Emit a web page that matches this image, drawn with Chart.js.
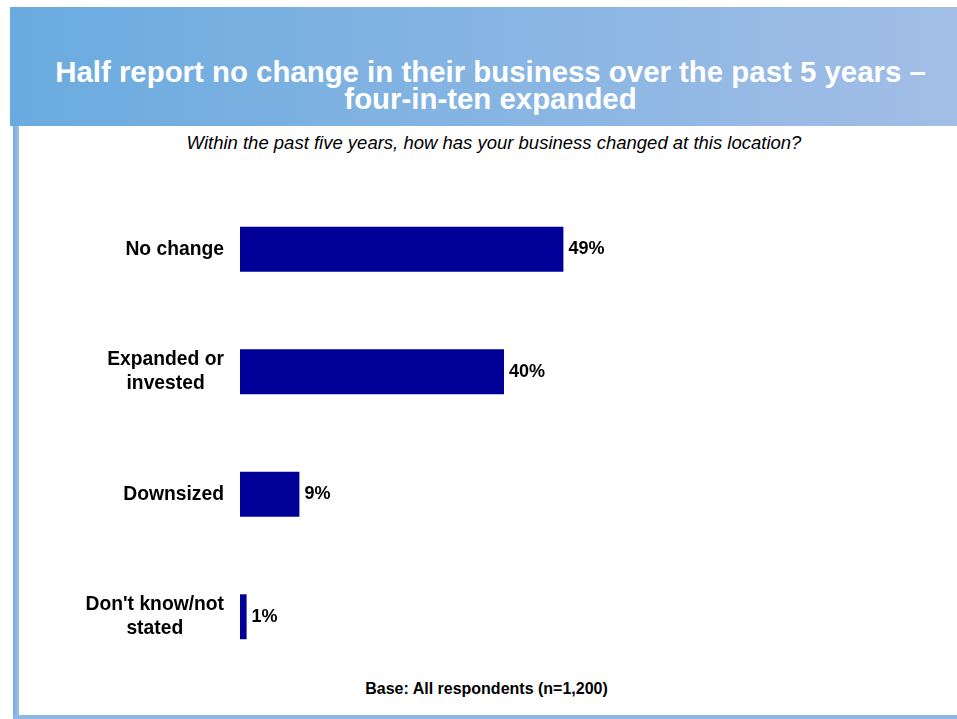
<!DOCTYPE html>
<html>
<head>
<meta charset="utf-8">
<title>Business change over the past 5 years</title>
<script src="https://cdn.jsdelivr.net/npm/chart.js@4"></script>
<style>
  body { margin: 0; background: #fff; font-family: 'Liberation Sans', Arial, sans-serif; }
  #page { position: relative; width: 957px; height: 719px; overflow: hidden; }
  #banner { position: absolute; left: 10px; top: 7px; width: 947px; height: 119px;
            background: linear-gradient(to right, #6aabdf, #a2bee6); }
  #edge { position: absolute; left: 13px; top: 126px; width: 6px; height: 593px;
          background: linear-gradient(to right, #74ade0, #a4bfe7); }
  #floor { position: absolute; left: 13px; top: 715px; width: 944px; height: 4px; background: #8cb8e6; }
  #title { position: absolute; left: 24px; top: 58px; width: 933px; text-align: center;
           color: #fff; font-weight: bold; font-size: 29.4px; line-height: 27px; }
  #question { position: absolute; left: 0; top: 133px; width: 988px; text-align: center;
              font-style: italic; font-size: 18.5px; line-height: 20px; color: #000; }
  #base { position: absolute; left: 0; top: 680px; width: 973px; text-align: center;
          font-weight: bold; font-size: 16px; line-height: 18px; color: #000; }
  #chart { position: absolute; left: 0; top: 0; }
</style>
</head>
<body>
<div id="page">
  <div id="banner"></div>
  <div id="edge"></div>
  <div id="floor"></div>
  <div id="title">Half report no change in their business over the past 5 years &ndash;<br>four-in-ten expanded</div>
  <div id="question">Within the past five years, how has your business changed at this location?</div>
  <div id="base">Base: All respondents (n=1,200)</div>
  <canvas id="chart" width="957" height="719"></canvas>
</div>
<script>
'use strict';

var categories = [
    'No change',
    ['Expanded or', 'invested'],
    'Downsized',
    ["Don't know/not", 'stated']
];
var percentages = [49, 40, 9, 1];

var nameFont = "bold 19.3px 'Liberation Sans', Arial, sans-serif";
var valueFont = "bold 18px 'Liberation Sans', Arial, sans-serif";

// category names: right-aligned block, lines centred inside it
var categoryLabels = {
    id: 'categoryLabels',
    afterDatasetsDraw: function(chart) {
        var ctx = chart.ctx;
        var yScale = chart.scales.y;
        var right = chart.chartArea.left - 16;
        ctx.save();
        ctx.font = nameFont;
        ctx.fillStyle = '#000';
        ctx.textAlign = 'center';
        ctx.textBaseline = 'middle';
        categories.forEach(function(cat, i) {
            var lines = Array.isArray(cat) ? cat : [cat];
            var widest = Math.max.apply(null, lines.map(function(l) { return ctx.measureText(l).width; }));
            var cx = right - widest / 2;
            var cy = yScale.getPixelForValue(i);
            var lineHeight = 24;
            var top = cy - (lines.length - 1) * lineHeight / 2;
            lines.forEach(function(line, j) {
                ctx.fillText(line, cx, top + j * lineHeight);
            });
        });
        ctx.restore();
    }
};

// percentage at the end of each bar
var valueLabels = {
    id: 'valueLabels',
    afterDatasetsDraw: function(chart) {
        var ctx = chart.ctx;
        var meta = chart.getDatasetMeta(0);
        ctx.save();
        ctx.font = valueFont;
        ctx.fillStyle = '#000';
        ctx.textAlign = 'left';
        ctx.textBaseline = 'middle';
        meta.data.forEach(function(bar, i) {
            ctx.fillText(percentages[i] + '%', bar.x + 5, bar.y);
        });
        ctx.restore();
    }
};

var ctx = document.getElementById('chart').getContext('2d');
var myBarChart = new Chart(ctx, {
    type: 'bar',
    data: {
        labels: categories,
        datasets: [{
            data: percentages,
            backgroundColor: '#000099',
            borderWidth: 0,
            barPercentage: 0.367,
            categoryPercentage: 1
        }]
    },
    plugins: [categoryLabels, valueLabels],
    options: {
        indexAxis: 'y',
        responsive: false,
        animation: false,
        layout: {
            padding: { left: 240, right: 57, top: 188, bottom: 41 }
        },
        scales: {
            x: { display: false, min: 0, max: 100 },
            y: { display: false }
        },
        plugins: {
            legend: { display: false },
            tooltip: { enabled: false }
        }
    }
});
</script>
</body>
</html>
